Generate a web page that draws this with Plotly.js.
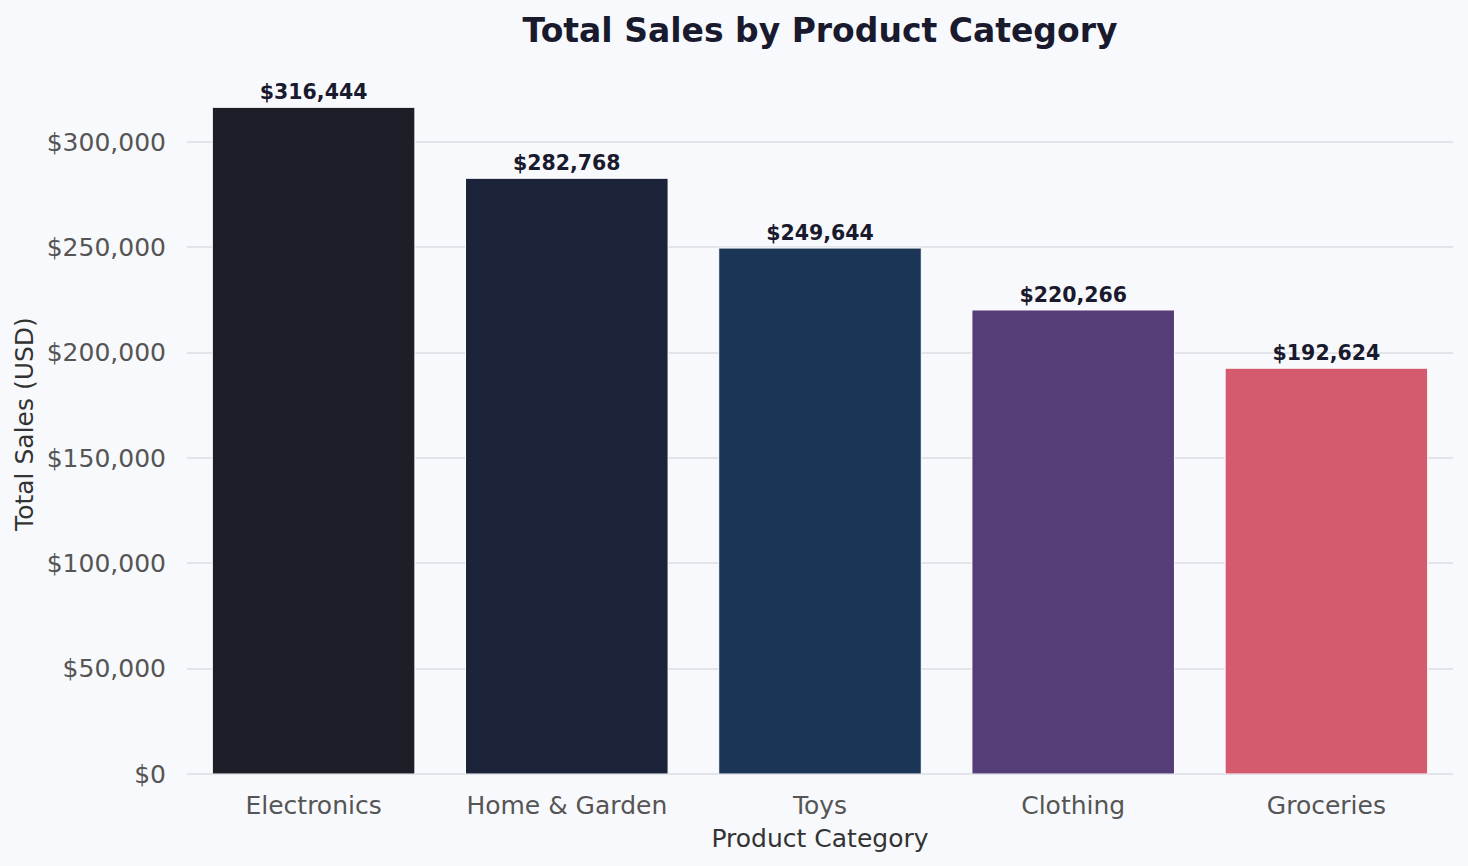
<!DOCTYPE html>
<html>
<head>
<meta charset="utf-8">
<script src="https://cdn.plot.ly/plotly-3.0.1.min.js"></script>
<style>html,body{margin:0;padding:0;background:#f8f9fc;}</style>
</head>
<body>
<div id="chart" style="width:1468px;height:866px;"></div>
<script>
const categories = ["Electronics", "Home & Garden", "Toys", "Clothing", "Groceries"];
const sales = [316444, 282768, 249644, 220266, 192624];
const barColors = ["#1e1e29", "#1b233b", "#1a3556", "#553d78", "#d45b6e"];
const yTickVals = [0, 50000, 100000, 150000, 200000, 250000, 300000];
const yTickText = ["$0", "$50,000", "$100,000", "$150,000", "$200,000", "$250,000", "$300,000"];

const labels = sales.map(v => "$" + v.toLocaleString("en-US"));
const font = "DejaVu Sans, sans-serif";

const trace = {
  type: "bar",
  x: categories,
  y: sales,
  width: 0.8,
  marker: { color: barColors, line: { color: "#ffffff", width: 1 } },
  text: labels,
  textposition: "outside",
  textfont: { family: font, size: 20.5, color: "#1a1a2e", weight: "bold" },
  cliponaxis: false,
  hoverinfo: "x+y"
};

const layout = {
  width: 1468,
  height: 866,
  paper_bgcolor: "#f8f9fc",
  plot_bgcolor: "#f8f9fc",
  margin: { l: 187, r: 15, t: 74, b: 92 },
  title: {
    text: "<b>Total Sales by Product Category</b>",
    font: { family: font, size: 33, color: "#1a1a2e" },
    x: 0.5, xanchor: "center", xref: "paper",
    y: 0.965, yanchor: "middle"
  },
  xaxis: {
    type: "category",
    range: [-0.5, 4.5],
    tickfont: { family: font, size: 25, color: "#555555" },
    ticks: "outside", ticklen: 9, tickcolor: "rgba(0,0,0,0)",
    showgrid: false,
    zeroline: false,
    showline: false,
    title: { text: "Product Category", font: { family: font, size: 25, color: "#333333" }, standoff: 10 }
  },
  yaxis: {
    range: [0, 332266],
    tickvals: yTickVals,
    ticktext: yTickText,
    tickfont: { family: font, size: 25, color: "#555555" },
    ticks: "outside", ticklen: 15, tickcolor: "rgba(0,0,0,0)",
    showgrid: true,
    gridcolor: "#e2e4ea",
    gridwidth: 1.5,
    zeroline: true,
    zerolinecolor: "#e2e4ea",
    zerolinewidth: 1.5,
    showline: false,
    title: { text: "Total Sales (USD)", font: { family: font, size: 25, color: "#333333" }, standoff: 5 }
  },
  showlegend: false,
  bargap: 0.2
};

Plotly.newPlot("chart", [trace], layout, { displayModeBar: false, staticPlot: false });
</script>
</body>
</html>
